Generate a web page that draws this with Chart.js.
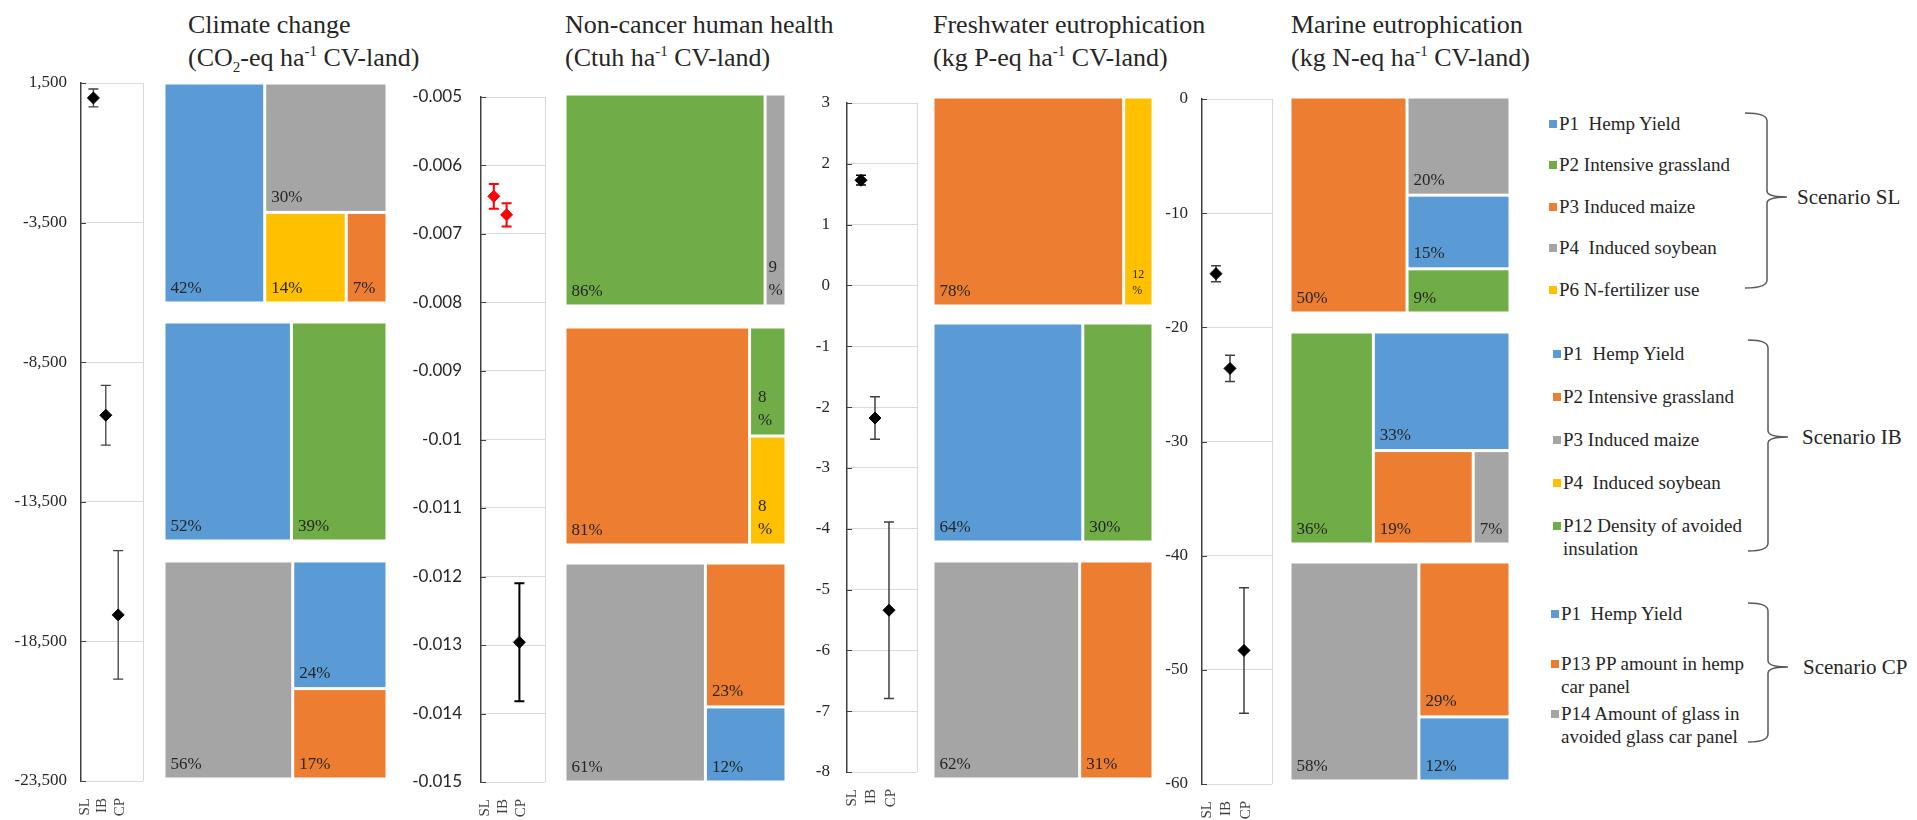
<!DOCTYPE html>
<html>
<head>
<meta charset="utf-8">
<script src="https://cdn.jsdelivr.net/npm/chart.js@4.4.0/dist/chart.umd.min.js"></script>
<style>
  body { margin: 0; background: #fff; }
  #pagina { position: relative; width: 1917px; height: 820px; overflow: hidden; font-family: "Liberation Serif", serif; color: #262626; }
  #pagina canvas { position: absolute; }
  .titulo { position: absolute; top: 8px; font-size: 26px; line-height: 33px; white-space: nowrap; }
  .titulo sub, .titulo sup { font-size: 15px; line-height: 0; }
  .item { position: absolute; font-size: 19px; line-height: 23px; white-space: pre; }
  .item i { position: absolute; left: -10px; top: 8px; width: 8px; height: 8px; }
  .escenario { position: absolute; font-size: 21px; line-height: 26px; white-space: nowrap; }
  svg { position: absolute; left: 0; top: 0; }
</style>
</head>
<body>
<div id="pagina"></div>
<script>
// Categorías del eje x de los gráficos de incertidumbre
const escenarios = ["SL", "IB", "CP"];

// Climate change (CO2-eq ha-1 CV-land)
const climaMedia = [965, -10400, -17550];
const climaError = [320, 1070, 2300];
const climaTicks = [1500, -3500, -8500, -13500, -18500, -23500];
const climaSL = [["P1", 42], ["P4", 30], ["P6", 14], ["P3", 7]];
const climaIB = [["P1", 52], ["P12", 39]];
const climaCP = [["P14", 56], ["P1", 24], ["P13", 17]];

// Non-cancer human health (Ctuh ha-1 CV-land)
const saludMedia = [-0.00645, -0.00672, -0.01296];
const saludError = [0.00018, 0.00017, 0.00086];
const saludTicks = [-0.005, -0.006, -0.007, -0.008, -0.009, -0.01, -0.011, -0.012, -0.013, -0.014, -0.015];
const saludSL = [["P2", 86], ["P4", 9]];
const saludIB = [["P2", 81], ["P12", 8], ["P4", 8]];
const saludCP = [["P14", 61], ["P13", 23], ["P1", 12]];

// Freshwater eutrophication (kg P-eq ha-1 CV-land)
const aguaMedia = [1.73, -2.18, -5.34];
const aguaError = [0.08, 0.35, 1.45];
const aguaTicks = [3, 2, 1, 0, -1, -2, -3, -4, -5, -6, -7, -8];
const aguaSL = [["P3", 78], ["P6", 12]];
const aguaIB = [["P1", 64], ["P12", 30]];
const aguaCP = [["P14", 62], ["P13", 31]];

// Marine eutrophication (kg N-eq ha-1 CV-land)
const marMedia = [-15.3, -23.6, -48.3];
const marError = [0.7, 1.15, 5.5];
const marTicks = [0, -10, -20, -30, -40, -50, -60];
const marSL = [["P3", 50], ["P4", 20], ["P1", 15], ["P2", 9]];
const marIB = [["P12", 36], ["P1", 33], ["P2", 19], ["P3", 7]];
const marCP = [["P14", 58], ["P13", 29], ["P1", 12]];

// Textos de la leyenda por escenario
const leyendaSL = [["P1", "P1  Hemp Yield"], ["P2", "P2 Intensive grassland"], ["P3", "P3 Induced maize"], ["P4", "P4  Induced soybean"], ["P6", "P6 N-fertilizer use"]];
const leyendaIB = [["P1", "P1  Hemp Yield"], ["P2", "P2 Intensive grassland"], ["P3", "P3 Induced maize"], ["P4", "P4  Induced soybean"], ["P12", "P12 Density of avoided\ninsulation"]];
const leyendaCP = [["P1", "P1  Hemp Yield"], ["P13", "P13 PP amount in hemp\ncar panel"], ["P14", "P14 Amount of glass in\navoided glass car panel"]];

// Colores (paleta de Office)
const AZUL = "#5B9BD5", NARANJA = "#ED7D31", GRIS = "#A5A5A5", AMARILLO = "#FFC000", VERDE = "#70AD47";
const coloresSL = { P1: AZUL, P2: VERDE, P3: NARANJA, P4: GRIS, P6: AMARILLO };
const coloresIB = { P1: AZUL, P2: NARANJA, P3: GRIS, P4: AMARILLO, P12: VERDE };
const coloresCP = { P1: AZUL, P13: NARANJA, P14: GRIS };

Chart.defaults.font.family = '"Liberation Serif", serif';
Chart.defaults.color = "#262626";

const pagina = document.getElementById("pagina");

// Paneles: posición de cada gráfico en la página
const paneles = [
    { titulo: "Climate change", unidad: "(CO<sub>2</sub>-eq ha<sup>-1</sup> CV-land)", tituloX: 188,
      media: climaMedia, error: climaError, ticks: climaTicks, fmt: v => v.toLocaleString("en-US"),
      fuente: '"Liberation Serif"', sep: 14, plot: { l: 81, r: 143, t: 83, b: 781 },
      puntos: ["#000", "#000", "#000"], barras: ["#404040", "#404040", "#404040"], grosor: 1.3,
      mapas: [climaSL, climaIB, climaCP], mapaX: [164, 387], mapaY: [[83, 303], [322, 541], [561, 779]] },
    { titulo: "Non-cancer human health", unidad: "(Ctuh ha<sup>-1</sup> CV-land)", tituloX: 565,
      media: saludMedia, error: saludError, ticks: saludTicks, fmt: v => String(v),
      fuente: "Lato", sep: 19, plot: { l: 481, r: 545, t: 97, b: 782 },
      puntos: ["#FF0000", "#FF0000", "#000"], barras: ["#FF0000", "#FF0000", "#000"], grosor: 2,
      mapas: [saludSL, saludIB, saludCP], mapaX: [565, 786], mapaY: [[94, 306], [327, 545], [563, 782]] },
    { titulo: "Freshwater eutrophication", unidad: "(kg P-eq ha<sup>-1</sup> CV-land)", tituloX: 933,
      media: aguaMedia, error: aguaError, ticks: aguaTicks, fmt: v => String(v),
      fuente: '"Liberation Serif"', sep: 17, plot: { l: 847, r: 917, t: 103, b: 772 },
      puntos: ["#000", "#000", "#000"], barras: ["#000", "#404040", "#404040"], grosor: 1.5,
      mapas: [aguaSL, aguaIB, aguaCP], mapaX: [933, 1153], mapaY: [[97, 306], [323, 542], [561, 779]] },
    { titulo: "Marine eutrophication", unidad: "(kg N-eq ha<sup>-1</sup> CV-land)", tituloX: 1291,
      media: marMedia, error: marError, ticks: marTicks, fmt: v => String(v),
      fuente: '"Liberation Serif"', sep: 14, plot: { l: 1202, r: 1272, t: 99, b: 784 },
      puntos: ["#000", "#000", "#000"], barras: ["#404040", "#404040", "#404040"], grosor: 1.5,
      mapas: [marSL, marIB, marCP], mapaX: [1290, 1510], mapaY: [[97, 313], [332, 544], [562, 781]] }
];
const coloresFila = [coloresSL, coloresIB, coloresCP];

// Crea un canvas en la posición indicada
function crearLienzo(x, y, w, h) {
    const c = document.createElement("canvas");
    c.width = w;
    c.height = h;
    c.style.left = x + "px";
    c.style.top = y + "px";
    pagina.appendChild(c);
    return c;
}

// Peor relación de aspecto de una fila (algoritmo squarified)
function peor(fila, lado) {
    const s = fila.reduce((a, b) => a + b, 0);
    return Math.max(...fila.map(a => Math.max(lado * lado * a / (s * s), s * s / (lado * lado * a))));
}

// La celda mayor ocupa una columna completa, el resto se reparte "squarified"
function calcularCeldas(valores, ancho, alto) {
    const total = valores.reduce((a, b) => a + b, 0);
    const w0 = ancho * valores[0] / total;
    const celdas = [{ x: 0, y: 0, w: w0, h: alto }];
    let rect = { x: w0, y: 0, w: ancho - w0, h: alto };
    let resto = valores.slice(1).map(v => v / total * ancho * alto);
    while (resto.length) {
        const lado = Math.min(rect.w, rect.h);
        const fila = [resto[0]];
        let k = 1;
        while (k < resto.length && peor(fila.concat(resto[k]), lado) <= peor(fila, lado)) {
            fila.push(resto[k]);
            k++;
        }
        const suma = fila.reduce((a, b) => a + b, 0);
        if (rect.w >= rect.h) {
            // Columna a la izquierda
            const cw = suma / rect.h;
            let y = rect.y;
            fila.forEach(a => { celdas.push({ x: rect.x, y, w: cw, h: a / cw }); y += a / cw; });
            rect = { x: rect.x + cw, y: rect.y, w: rect.w - cw, h: rect.h };
        } else {
            // Fila arriba
            const rh = suma / rect.w;
            let x = rect.x;
            fila.forEach(a => { celdas.push({ x, y: rect.y, w: a / rh, h: rh }); x += a / rh; });
            rect = { x: rect.x, y: rect.y + rh, w: rect.w, h: rect.h - rh };
        }
        resto = resto.slice(k);
    }
    return celdas;
}

// Plugin que dibuja el mapa de árbol usando las escalas del gráfico
function pluginMapa(datos, colores) {
    return {
        id: "mapa",
        afterDatasetsDraw(chart) {
            const { ctx, chartArea: a, scales: { x, y } } = chart;
            const celdas = calcularCeldas(datos.map(d => d[1]), a.width, a.height);
            ctx.save();
            celdas.forEach((c, i) => {
                const x0 = x.getPixelForValue(c.x / a.width) + 1.5;
                const x1 = x.getPixelForValue((c.x + c.w) / a.width) - 1.5;
                const y0 = y.getPixelForValue(c.y / a.height) + 1.5;
                const y1 = y.getPixelForValue((c.y + c.h) / a.height) - 1.5;
                ctx.fillStyle = colores[datos[i][0]];
                ctx.fillRect(x0, y0, x1 - x0, y1 - y0);

                // Etiqueta del porcentaje abajo a la izquierda
                const valor = String(datos[i][1]);
                ctx.fillStyle = "#262626";
                ctx.textAlign = "left";
                ctx.textBaseline = "alphabetic";
                ctx.font = '17px "Liberation Serif"';
                if (ctx.measureText(valor + "%").width + 11 <= x1 - x0) {
                    ctx.fillText(valor + "%", x0 + 5, y1 - 9);
                } else {
                    // Celda estrecha: número y % en dos líneas
                    const tam = valor.length > 1 ? 12 : 17;
                    ctx.font = tam + 'px "Liberation Serif"';
                    const wmax = Math.max(ctx.measureText(valor).width, ctx.measureText("%").width);
                    const pad = Math.min(7, Math.max(1, (x1 - x0 - wmax) / 2));
                    const base = y1 - (tam > 12 ? 10 : 11);
                    ctx.fillText("%", x0 + pad, base);
                    ctx.fillText(valor, x0 + pad, base - tam * 1.3);
                }
            });
            ctx.restore();
        }
    };
}

// Plugin que dibuja las barras de error y las marcas interiores del eje
function pluginBarras(p) {
    return {
        id: "barras",
        beforeDatasetsDraw(chart) {
            const { ctx, chartArea: a, scales: { x, y } } = chart;
            ctx.save();
            ctx.strokeStyle = "#404040";
            ctx.lineWidth = 1;
            y.ticks.forEach(t => {
                const py = Math.round(y.getPixelForValue(t.value)) + 0.5;
                ctx.beginPath();
                ctx.moveTo(a.left, py);
                ctx.lineTo(a.left + 5, py);
                ctx.stroke();
            });
            p.media.forEach((m, i) => {
                const px = x.getPixelForValue(i + 1);
                const alto = y.getPixelForValue(m + p.error[i]);
                const bajo = y.getPixelForValue(m - p.error[i]);
                ctx.strokeStyle = p.barras[i];
                ctx.lineWidth = p.grosor;
                ctx.beginPath();
                ctx.moveTo(px, alto); ctx.lineTo(px, bajo);
                ctx.moveTo(px - 5, alto); ctx.lineTo(px + 5, alto);
                ctx.moveTo(px - 5, bajo); ctx.lineTo(px + 5, bajo);
                ctx.stroke();
            });
            ctx.restore();
        }
    };
}

// Gráfico de medias con incertidumbre (SL, IB, CP)
function graficoIncertidumbre(p) {
    const AXW = 80, PADT = 35, PADR = 22, XAH = 45;
    const lienzo = crearLienzo(p.plot.l - AXW, p.plot.t - PADT, p.plot.r - p.plot.l + AXW + PADR, p.plot.b - p.plot.t + PADT + XAH);
    const marcas = [...p.ticks].sort((a, b) => a - b);
    // Las etiquetas del eje x van algo más separadas que los puntos, como en el original
    const posEtiquetas = [0.35, 1.7, 3.15, 5];
    new Chart(lienzo, {
        type: "scatter",
        data: {
            datasets: [{
                data: p.media.map((m, i) => ({ x: i + 1, y: m })),
                pointStyle: "rectRot",
                pointRadius: 6,
                pointHoverRadius: 6,
                pointBackgroundColor: p.puntos,
                pointBorderColor: p.puntos,
                pointBorderWidth: 1
            }]
        },
        options: {
            responsive: false,
            animation: false,
            events: [],
            layout: { padding: { top: PADT, right: PADR, left: 0, bottom: 0 } },
            plugins: { legend: { display: false }, tooltip: { enabled: false } },
            scales: {
                x: {
                    type: "linear", min: 0, max: 5,
                    afterBuildTicks: s => { s.ticks = posEtiquetas.map(v => ({ value: v })); },
                    afterFit: s => { s.height = XAH; },
                    ticks: { autoSkip: false, minRotation: 90, maxRotation: 90, padding: 0, font: { size: 15 }, color: "#404040", callback: (v, i) => escenarios[i] || "" },
                    grid: { drawTicks: true, tickLength: 17, tickColor: "rgba(0,0,0,0)", color: c => (c.tick && c.tick.value === 5 ? "#d9d9d9" : "rgba(0,0,0,0)") },
                    border: { display: false }
                },
                y: {
                    min: marcas[0], max: marcas[marcas.length - 1],
                    afterBuildTicks: s => { s.ticks = marcas.map(v => ({ value: v })); },
                    afterFit: s => { s.width = AXW; },
                    ticks: { padding: p.sep, font: { size: 17, family: p.fuente }, color: "#262626", callback: v => p.fmt(v) },
                    grid: { drawTicks: false, color: "#d9d9d9" },
                    border: { color: "#404040", width: 1.5 }
                }
            }
        },
        plugins: [pluginBarras(p)]
    });
}

// Un mapa de árbol en su caja
function graficoMapa(datos, colores, x0, x1, y0, y1) {
    const lienzo = crearLienzo(x0, y0, x1 - x0, y1 - y0);
    new Chart(lienzo, {
        type: "scatter",
        data: { datasets: [] },
        options: {
            responsive: false,
            animation: false,
            events: [],
            layout: { padding: 0 },
            plugins: { legend: { display: false }, tooltip: { enabled: false } },
            scales: {
                x: { display: false, min: 0, max: 1 },
                y: { display: false, min: 0, max: 1, reverse: true }
            }
        },
        plugins: [pluginMapa(datos, colores)]
    });
}

paneles.forEach(p => {
    const t = document.createElement("div");
    t.className = "titulo";
    t.style.left = p.tituloX + "px";
    t.innerHTML = p.titulo + "<br>" + p.unidad;
    pagina.appendChild(t);
    graficoIncertidumbre(p);
    p.mapas.forEach((m, i) => graficoMapa(m, coloresFila[i], p.mapaX[0], p.mapaX[1], p.mapaY[i][0], p.mapaY[i][1]));
});

// Leyenda con llaves por escenario
const grupos = [
    { items: leyendaSL, colores: coloresSL, y0: 123, paso: 41.5, x: 1559, llave: [113, 288, 197, 1745, 1767, 1787], texto: "Scenario SL", tx: 1797 },
    { items: leyendaIB, colores: coloresIB, y0: 353, paso: 43, x: 1563, llave: [340, 551, 437, 1748, 1768, 1788], texto: "Scenario IB", tx: 1802 },
    { items: leyendaCP, colores: coloresCP, y0: 613, paso: 50, x: 1561, llave: [603, 742, 667, 1748, 1768, 1788], texto: "Scenario CP", tx: 1803 }
];
let trazos = "";
grupos.forEach(g => {
    g.items.forEach(([clave, texto], i) => {
        const d = document.createElement("div");
        d.className = "item";
        d.style.left = g.x + "px";
        d.style.top = (g.y0 + i * g.paso - 11.5) + "px";
        d.innerHTML = '<i style="background:' + g.colores[clave] + '"></i>';
        d.appendChild(document.createTextNode(texto));
        pagina.appendChild(d);
    });
    const [t, b, m, l, s, p] = g.llave;
    trazos += `<path d="M${l},${t} Q${s},${t} ${s},${t + 8} L${s},${m - 6} Q${s},${m} ${p},${m} Q${s},${m} ${s},${m + 6} L${s},${b - 8} Q${s},${b} ${l},${b}" />`;
    const e = document.createElement("div");
    e.className = "escenario";
    e.style.left = g.tx + "px";
    e.style.top = (m - 13) + "px";
    e.textContent = g.texto;
    pagina.appendChild(e);
});
pagina.insertAdjacentHTML("beforeend", `<svg width="1917" height="820" fill="none" stroke="#595959" stroke-width="1.5">${trazos}</svg>`);
</script>
</body>
</html>
